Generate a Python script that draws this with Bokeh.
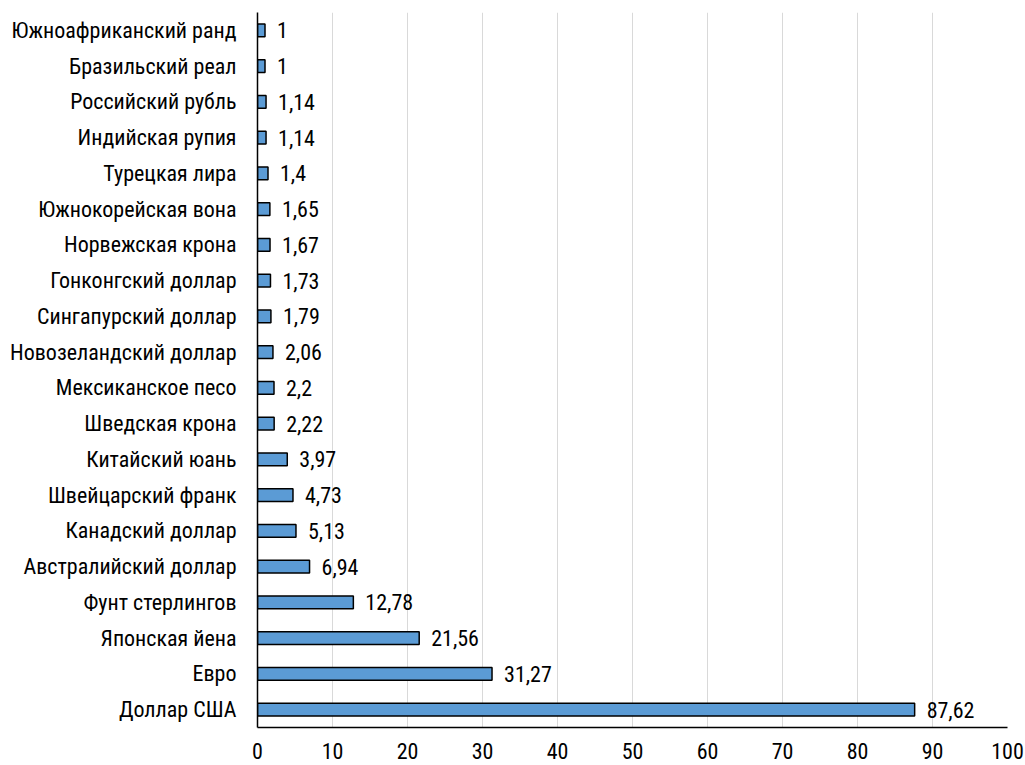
from bokeh.plotting import figure
from bokeh.models import ColumnDataSource, Range1d, FactorRange
from bokeh.core.properties import value
from bokeh.embed import file_html
from bokeh.resources import INLINE

categories = ["Южноафриканский ранд", "Бразильский реал", "Российский рубль", "Индийская рупия",
              "Турецкая лира", "Южнокорейская вона", "Норвежская крона", "Гонконгский доллар",
              "Сингапурский доллар", "Новозеландский доллар", "Мексиканское песо", "Шведская крона",
              "Китайский юань", "Швейцарский франк", "Канадский доллар", "Австралийский доллар",
              "Фунт стерлингов", "Японская йена", "Евро", "Доллар США"]
values = [1, 1, 1.14, 1.14, 1.4, 1.65, 1.67, 1.73, 1.79, 2.06, 2.2, 2.22,
          3.97, 4.73, 5.13, 6.94, 12.78, 21.56, 31.27, 87.62]
x_ticks = [0, 10, 20, 30, 40, 50, 60, 70, 80, 90, 100]

labels = [f"{v:g}".replace(".", ",") for v in values]
FONT = "Roboto Condensed"
FS = "22px"

src = ColumnDataSource(dict(cat=categories, val=values, label=labels))

p = figure(width=1025, height=765, output_backend="svg", toolbar_location=None,
           y_range=FactorRange(*list(reversed(categories)), range_padding=0),
           x_range=Range1d(0, 100),
           min_border_left=257, min_border_right=18, min_border_top=12, min_border_bottom=38)

p.hbar(y="cat", right="val", left=0, height=0.36, source=src,
       fill_color="#5b9bd5", line_color="black", line_width=1.5)
p.text(x="val", y="cat", text="label", source=src, x_offset=12,
       text_baseline="middle", text_align="left",
       text_font=value(FONT), text_font_size=FS, text_color="black")

p.outline_line_color = None
p.ygrid.grid_line_color = None
p.xgrid.grid_line_color = "#d9d9d9"
p.xgrid.grid_line_width = 1
p.xaxis.ticker = x_ticks
for ax in (p.xaxis[0], p.yaxis[0]):
    ax.axis_line_color = "black"
    ax.axis_line_width = 1.5
    ax.major_tick_line_color = None
    ax.minor_tick_line_color = None
    ax.major_label_text_font = FONT
    ax.major_label_text_font_size = FS
    ax.major_label_text_color = "black"
p.yaxis.major_label_standoff = 15
p.xaxis.major_label_standoff = 9

open("out.html", "w").write(file_html(p, INLINE))
